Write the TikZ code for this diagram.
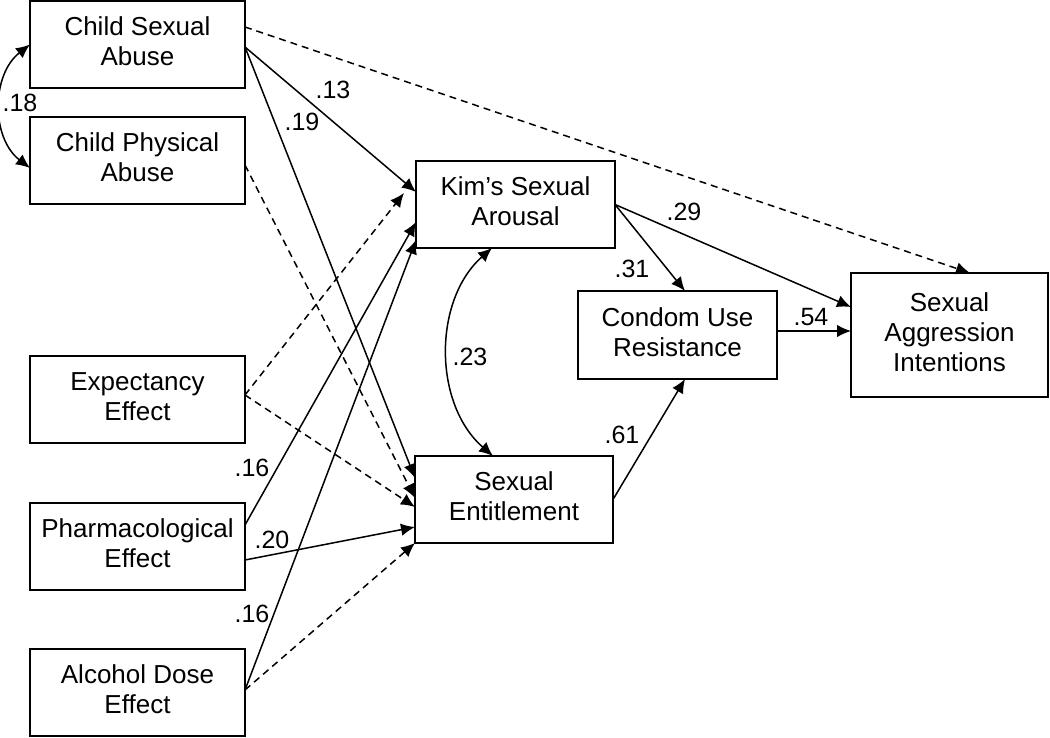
\documentclass[tikz,border=0pt]{standalone}
\usepackage{fontspec}
\setmainfont{Liberation Sans}
\usetikzlibrary{arrows.meta,calc}
\begin{document}
\begin{tikzpicture}[x=1pt,y=-1pt,
  box/.style={draw, line width=1.9pt, align=center, inner sep=0pt, outer sep=0pt,
    text depth=6pt, font=\fontsize{26}{30}\selectfont},
  pth/.style={line width=1.5pt, -{Latex[length=14pt,width=12.5pt]}},
  dpth/.style={pth, dash pattern=on 7pt off 5pt},
  cor/.style={line width=1.5pt, {Latex[length=14pt,width=12.5pt]}-{Latex[length=14pt,width=12.5pt]}},
  coef/.style={font=\fontsize{25}{30}\selectfont, inner sep=0pt}]
\useasboundingbox (0,0) rectangle (1050,738);

% boxes
\node[box, minimum width=215pt, minimum height=87pt] (csa) at (137.5,44.5) {Child Sexual\\Abuse};
\node[box, minimum width=215pt, minimum height=87pt] (cpa) at (137.5,160.5) {Child Physical\\Abuse};
\node[box, minimum width=215pt, minimum height=87pt] (exp) at (137.5,399.5) {Expectancy\\Effect};
\node[box, minimum width=215pt, minimum height=87pt] (pha) at (137.5,546.5) {Pharmacological\\Effect};
\node[box, minimum width=215pt, minimum height=87pt] (alc) at (137.5,692.5) {Alcohol Dose\\Effect};
\node[box, minimum width=199pt, minimum height=87pt] (kim) at (515.5,204.5) {Kim’s Sexual\\Arousal};
\node[box, minimum width=198pt, minimum height=87pt] (ent) at (514,499.5) {Sexual\\Entitlement};
\node[box, minimum width=199pt, minimum height=88pt] (con) at (677.5,335) {Condom Use\\Resistance};
\node[box, minimum width=197pt, minimum height=124pt] (sai) at (949.5,335) {Sexual\\Aggression\\Intentions};

% correlations
\draw[cor] (csa.west) .. controls (-9,75) and (-9,138) .. ([yshift=-7.5pt]cpa.west);
\draw[cor] ([xshift=-23.5pt]kim.south) .. controls (433,300) and (433,404) .. ([xshift=-21pt]ent.north);

% paths from child abuse
\draw[dpth] ([yshift=17.5pt]csa.east) -- ([xshift=20.5pt]sai.north);
\draw[pth] ([yshift=-2.5pt]csa.east) -- ([yshift=12.5pt]kim.west);
\draw[pth] ([yshift=-2.5pt]csa.east) -- ([yshift=21.5pt]ent.west);
\draw[dpth] ([yshift=-4.5pt]cpa.east) -- ([yshift=1.5pt]ent.west);

% paths from manipulations
\draw[dpth] ([yshift=4.5pt]exp.east) -- ([xshift=-12pt,yshift=11.5pt]kim.west);
\draw[dpth] ([yshift=4.5pt]exp.east) -- ([yshift=-7.5pt]ent.west);
\draw[pth] ([yshift=21.5pt]pha.east) -- ([yshift=-17.5pt]kim.west);
\draw[pth] ([yshift=-13.5pt]pha.east) -- ([yshift=-27.5pt]ent.west);
\draw[pth] ([yshift=2.5pt]alc.east) -- ([yshift=-35.5pt]kim.west);
\draw[dpth] ([yshift=2.5pt]alc.east) -- (ent.south west);

% downstream paths
\draw[pth] (kim.east) -- ([xshift=7.5pt]con.north);
\draw[pth] (kim.east) -- ([yshift=28pt]sai.west);
\draw[pth] ([yshift=4pt]con.east) -- ([yshift=4pt]sai.west);
\draw[pth] (ent.east) -- ([xshift=7.5pt]con.south);

% coefficients
\node[coef] (c18) at (20,103) {.18};
\node[coef] (c13) at (333,90) {.13};
\node[coef] (c19) at (302,122) {.19};
\node[coef] (c16a) at (252,468) {.16};
\node[coef] (c20) at (272,540) {.20};
\node[coef] (c16b) at (252,614) {.16};
\node[coef] (c23) at (470,357) {.23};
\node[coef] (c31) at (632,269) {.31};
\node[coef] (c29) at (684,212) {.29};
\node[coef] (c54) at (811,317) {.54};
\node[coef] (c61) at (622,435) {.61};
\end{tikzpicture}
\end{document}
